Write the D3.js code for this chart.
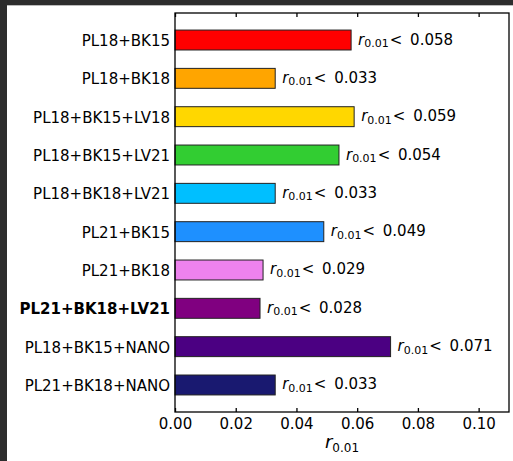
<!DOCTYPE html>
<html>
<head>
<meta charset="utf-8">
<script src="https://cdn.jsdelivr.net/npm/d3@7"></script>
<style>
  body { margin: 0; background: #2d2d2d; }
  svg { display: block; font-family: "DejaVu Sans", sans-serif; }
</style>
</head>
<body>
<div id="chart"></div>
<script>
// combinations, upper limits and bar colours
var combos = ["PL18+BK15", "PL18+BK18", "PL18+BK15+LV18", "PL18+BK15+LV21", "PL18+BK18+LV21",
              "PL21+BK15", "PL21+BK18", "PL21+BK18+LV21", "PL18+BK15+NANO", "PL21+BK18+NANO"];
var limits = [0.058, 0.033, 0.059, 0.054, 0.033, 0.049, 0.029, 0.028, 0.071, 0.033];
var colors = ["red", "orange", "gold", "limegreen", "deepskyblue",
              "dodgerblue", "violet", "purple", "indigo", "midnightblue"];
var boldLabel = "PL21+BK18+LV21";
var xTicks = [0.00, 0.02, 0.04, 0.06, 0.08, 0.10];

var W = 513, H = 461;
// plot area edges (window.top is reserved, so use other names)
var axL = 175, axR = 509, axT = 13, axB = 412;

var svg = d3.select("#chart").append("svg")
    .attr("width", W)
    .attr("height", H);

// dark frame with white figure
svg.append("rect").attr("width", W).attr("height", H).attr("fill", "#2d2d2d");
svg.append("rect").attr("x", 7).attr("y", 5).attr("width", W - 7).attr("height", H - 5)
    .attr("fill", "white");
svg.append("line").attr("x1", 7).attr("x2", W).attr("y1", 5.5).attr("y2", 5.5)
    .attr("stroke", "#bbb").attr("stroke-width", 1);

var x = d3.scaleLinear().domain([0, 0.11]).range([axL, axR]);
var y = d3.scaleLinear().domain([-0.705, 9.705]).range([axT, axB]);
var barH = 0.52;

// bars
svg.selectAll(".bar")
    .data(combos)
    .enter().append("rect")
    .attr("class", "bar")
    .attr("x", x(0))
    .attr("y", function(d, i) { return y(i - barH / 2); })
    .attr("width", function(d, i) { return x(limits[i]) - x(0); })
    .attr("height", function(d, i) { return y(i + barH / 2) - y(i - barH / 2); })
    .attr("fill", function(d, i) { return colors[i]; })
    .attr("stroke", "#222")
    .attr("stroke-width", 1);

// annotations: r_0.01 < value
var ann = svg.selectAll(".ann")
    .data(combos)
    .enter().append("text")
    .attr("class", "ann")
    .attr("x", function(d, i) { return x(limits[i]) + 7; })
    .attr("y", function(d, i) { return y(i) + 4.5; })
    .attr("font-size", 15)
    .attr("fill", "black");
ann.append("tspan").attr("font-style", "italic").text("r");
ann.append("tspan").attr("font-size", 11).attr("dy", 2.5).text("0.01");
ann.append("tspan").attr("dy", -2.5).attr("dx", 1).text("<");
ann.append("tspan").attr("dx", 3)
    .text(function(d, i) { return "\u00a0" + limits[i].toFixed(3); });

// y tick labels
svg.selectAll(".ylab")
    .data(combos)
    .enter().append("text")
    .attr("class", "ylab")
    .attr("x", axL - 5)
    .attr("y", function(d, i) { return y(i) + 6; })
    .attr("text-anchor", "end")
    .attr("font-size", 15)
    .attr("font-weight", function(d) { return d === boldLabel ? "bold" : "normal"; })
    .text(function(d) { return d; });

// frame
svg.append("rect")
    .attr("x", axL).attr("y", axT)
    .attr("width", axR - axL).attr("height", axB - axT)
    .attr("fill", "none").attr("stroke", "black").attr("stroke-width", 1.3);

// x ticks inward on bottom and top
var bottomAxis = svg.append("g")
    .attr("transform", "translate(0," + axB + ")")
    .call(d3.axisBottom(x).tickValues(xTicks).tickSizeInner(-4).tickSizeOuter(0)
          .tickPadding(6).tickFormat(d3.format(".2f")));
bottomAxis.select(".domain").remove();
bottomAxis.selectAll("text").attr("font-size", 15).attr("font-family", "DejaVu Sans").attr("fill", "black");
bottomAxis.selectAll("line").attr("stroke-width", 1.3);

var topAxis = svg.append("g")
    .attr("transform", "translate(0," + axT + ")")
    .call(d3.axisTop(x).tickValues(xTicks).tickSizeInner(-4).tickSizeOuter(0).tickFormat(""));
topAxis.select(".domain").remove();
topAxis.selectAll("line").attr("stroke-width", 1.3);

// x axis label
var xl = svg.append("text")
    .attr("x", (axL + axR) / 2)
    .attr("y", 448)
    .attr("text-anchor", "middle")
    .attr("font-size", 18);
xl.append("tspan").attr("font-style", "italic").text("r");
xl.append("tspan").attr("font-size", 12).attr("dy", 4).text("0.01");
</script>
</body>
</html>
